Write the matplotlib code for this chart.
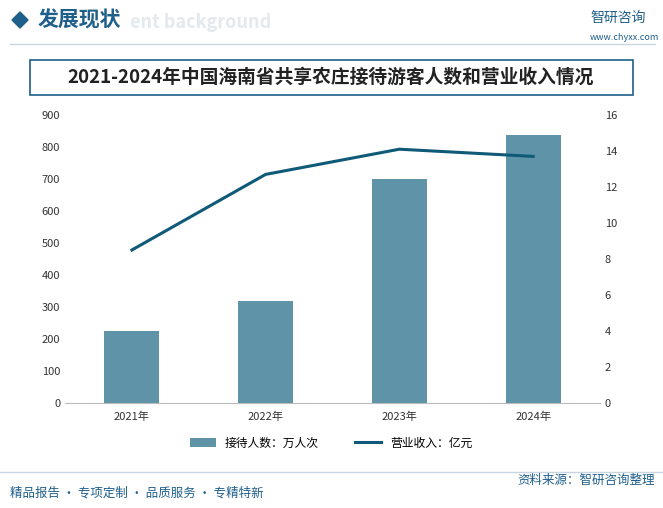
import matplotlib
matplotlib.use("Agg")
import matplotlib.pyplot as plt
from matplotlib.patches import Rectangle, Polygon
from matplotlib.lines import Line2D

plt.rcParams["font.family"] = "Noto Sans CJK SC"

years = ["2021年", "2022年", "2023年", "2024年"]
visitors = [225, 318, 700, 838]
revenue = [8.5, 12.7, 14.1, 13.7]

W, H = 663, 508
fig = plt.figure(figsize=(W/100, H/100), dpi=100)
fig.patch.set_facecolor("white")

def fx(x): return x / W
def fy(y): return 1 - y / H

# header
fig.add_artist(Polygon([[fx(12), fy(20)], [fx(20), fy(12)], [fx(28), fy(20)], [fx(20), fy(28)]],
                       closed=True, color="#1f5f8b", transform=fig.transFigure))
fig.text(fx(38), fy(20), "发展现状", fontsize=15, fontweight="bold", color="#1f5f8b", va="center")
fig.text(fx(130), fy(22), "ent background", fontsize=13, fontweight="bold", color="#e4e9ee", va="center")
fig.text(fx(590), fy(18), "智研咨询", fontsize=10, color="#1f5f8b", va="center")
fig.text(fx(590), fy(37), "www.chyxx.com", fontsize=6.5, color="#1f5f8b", va="center")
fig.add_artist(Line2D([fx(10), fx(655)], [fy(44), fy(44)], color="#c8d6e2", lw=1, transform=fig.transFigure))

# title box
fig.add_artist(Rectangle((fx(30), fy(95)), fx(603), 35 / H, fill=False,
                         edgecolor="#1f5f8b", lw=1.2, transform=fig.transFigure))
fig.text(fx(331), fy(77), "2021-2024年中国海南省共享农庄接待游客人数和营业收入情况",
         fontsize=13.5, fontweight="bold", color="#222222", ha="center", va="center")

ax = fig.add_axes([fx(65), fy(403), fx(600) - fx(65), (403 - 115) / H])
x = range(len(years))
bars = ax.bar(x, visitors, width=0.41, color="#5e93a8", label="接待人数：万人次")
ax.set_ylim(0, 900)
ax.set_yticks(range(0, 901, 100))
ax.set_xlim(-0.5, 3.5)
ax.set_xticks(list(x))
ax.set_xticklabels(years)
for s in ["top", "right", "left"]:
    ax.spines[s].set_visible(False)
ax.spines["bottom"].set_color("#bbbbbb")
ax.tick_params(axis="both", labelsize=8, colors="#333333", length=0)
ax.tick_params(axis="x", pad=6)

ax2 = ax.twinx()
ln, = ax2.plot(list(x), revenue, color="#0f5a78", lw=2.2, label="营业收入：亿元")
ax2.set_ylim(0, 16)
ax2.set_yticks(range(0, 17, 2))
for s in ["top", "right", "left", "bottom"]:
    ax2.spines[s].set_visible(False)
ax2.tick_params(axis="y", labelsize=8, colors="#333333", length=0)

fig.legend([bars, ln], ["接待人数：万人次", "营业收入：亿元"], loc="center",
           bbox_to_anchor=(fx(331), fy(443)), ncol=2, frameon=False, fontsize=8.5,
           handlelength=2.2, columnspacing=3)

# footer
fig.add_artist(Line2D([fx(0), fx(663)], [fy(472), fy(472)], color="#c8d6e2", lw=1, transform=fig.transFigure))
fig.text(fx(10), fy(493), "精品报告 · 专项定制 · 品质服务 · 专精特新", fontsize=9, color="#1f5f8b", va="center")
fig.text(fx(655), fy(480), "资料来源：智研咨询整理", fontsize=9, color="#1f5f8b", va="center", ha="right")

fig.savefig("out.png", dpi=100)
